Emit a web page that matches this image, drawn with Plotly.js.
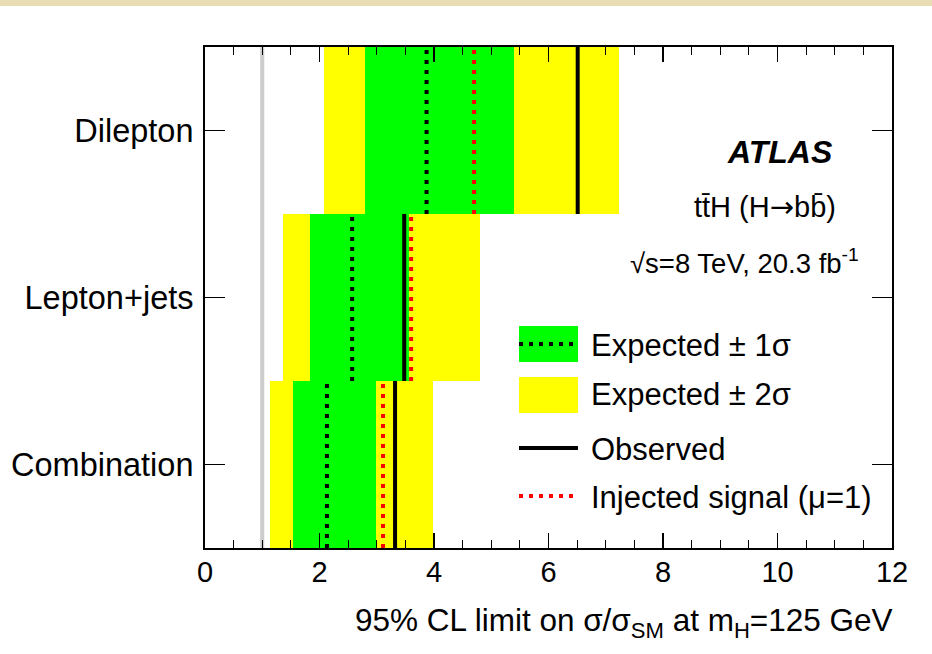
<!DOCTYPE html>
<html>
<head>
<meta charset="utf-8">
<script src="https://cdn.plot.ly/plotly-3.0.1.min.js"></script>
<style>
  html, body { margin: 0; padding: 0; background: #ffffff; }
  #chart { width: 932px; height: 654px; }
</style>
</head>
<body>
<div id="chart"></div>
<script>
// ttH (H->bb) 95% CL upper limits on mu per channel
const channels   = ['Combination', 'Lepton+jets', 'Dilepton'];
const channelPos = [0, 1, 2];
const observed   = [3.32, 3.48, 6.51];
const expected   = [2.13, 2.57, 3.87];
const injected   = [3.11, 3.60, 4.70];
const exp1sLow   = [1.54, 1.83, 2.80];
const exp1sHigh  = [2.99, 3.56, 5.40];
const exp2sLow   = [1.14, 1.36, 2.07];
const exp2sHigh  = [3.98, 4.80, 7.23];
const smReference = 1;

const legendLabels = ['Expected \u00b1 1\u03c3', 'Expected \u00b1 2\u03c3', 'Observed', 'Injected signal (\u03bc=1)'];

// frame geometry (pixels)
const W = 932, H = 654;
const M = { l: 205, r: 40, t: 47, b: 106 };
const plotW = W - M.l - M.r, plotH = H - M.t - M.b;
const px = x => (x - M.l) / plotW;           // pixel -> paper x
const py = y => (H - M.b - y) / plotH;       // pixel -> paper y

const FONT = '"Liberation Sans", Arial, Helvetica, sans-serif';
const dotted = '4px,6px';

// vertical segment per channel spanning the full bin height
function segments(values) {
  const xs = [], ys = [];
  values.forEach((v, i) => {
    xs.push(v, v, null);
    ys.push(channelPos[i] - 0.5, channelPos[i] + 0.5, null);
  });
  return { x: xs, y: ys };
}

const widths = (lo, hi) => hi.map((h, i) => h - lo[i]);

const traces = [
  {
    type: 'bar', orientation: 'h', y: channelPos,
    base: exp2sLow, x: widths(exp2sLow, exp2sHigh), width: 1,
    marker: { color: '#ffff00', line: { width: 0 } }, hoverinfo: 'skip'
  },
  {
    type: 'bar', orientation: 'h', y: channelPos,
    base: exp1sLow, x: widths(exp1sLow, exp1sHigh), width: 1,
    marker: { color: '#00ff00', line: { width: 0 } }, hoverinfo: 'skip'
  },
  Object.assign({
    type: 'scatter', mode: 'lines',
    line: { color: '#cccccc', width: 4 }, hoverinfo: 'skip'
  }, { x: [smReference, smReference], y: [-0.5, 2.5] }),
  Object.assign({
    type: 'scatter', mode: 'lines',
    line: { color: '#000000', width: 4, dash: dotted }, hoverinfo: 'skip'
  }, segments(expected)),
  Object.assign({
    type: 'scatter', mode: 'lines',
    line: { color: '#ff0000', width: 4, dash: dotted }, hoverinfo: 'skip'
  }, segments(injected)),
  Object.assign({
    type: 'scatter', mode: 'lines',
    line: { color: '#000000', width: 4 }, hoverinfo: 'skip'
  }, segments(observed))
];

// legend drawn as boxes, lines and labels inside the frame
const legX0 = 519, legX1 = 578;
const shapes = [
  // parchment strip along the top edge
  { type: 'rect', xref: 'paper', yref: 'paper', x0: px(0), x1: px(W), y0: py(0), y1: py(6),
    fillcolor: '#e9ddb4', line: { width: 0 }, layer: 'below' },
  { type: 'rect', xref: 'paper', yref: 'paper', x0: px(legX0), x1: px(legX1), y0: py(362), y1: py(326),
    fillcolor: '#00ff00', line: { width: 0 } },
  { type: 'line', xref: 'paper', yref: 'paper', x0: px(legX0), x1: px(legX1), y0: py(344), y1: py(344),
    line: { color: '#000000', width: 4, dash: dotted } },
  { type: 'rect', xref: 'paper', yref: 'paper', x0: px(legX0), x1: px(legX1), y0: py(413), y1: py(377),
    fillcolor: '#ffff00', line: { width: 0 } },
  { type: 'line', xref: 'paper', yref: 'paper', x0: px(legX0), x1: px(legX1), y0: py(448), y1: py(448),
    line: { color: '#000000', width: 4 } },
  { type: 'line', xref: 'paper', yref: 'paper', x0: px(legX0), x1: px(legX1), y0: py(496), y1: py(496),
    line: { color: '#ff0000', width: 4, dash: dotted } }
];

const legendY = [344, 394, 449, 496];
const annotations = legendLabels.map((t, i) => ({
  xref: 'paper', yref: 'paper', x: px(589), y: py(legendY[i] + 1),
  xanchor: 'left', yanchor: 'middle', showarrow: false, text: t,
  font: { family: FONT, size: 31, color: '#000000' }
}));

annotations.push(
  { xref: 'paper', yref: 'paper', x: px(835), y: py(152), xanchor: 'right', yanchor: 'middle',
    showarrow: false, text: '<b><i>ATLAS</i></b>', font: { family: FONT, size: 32, color: '#000000' } },
  { xref: 'paper', yref: 'paper', x: px(838), y: py(207), xanchor: 'right', yanchor: 'middle',
    showarrow: false,
    text: 'tt\u0304H (H<span style="font-family:\'DejaVu Sans\'">\u2192</span>bb\u0304)',
    font: { family: FONT, size: 29, color: '#000000' } },
  { xref: 'paper', yref: 'paper', x: px(861), y: py(261), xanchor: 'right', yanchor: 'middle',
    showarrow: false, text: '\u221as=8 TeV, 20.3 fb<sup>-1</sup>',
    font: { family: FONT, size: 27.5, color: '#000000' } },
  { xref: 'paper', yref: 'paper', x: px(895), y: py(622), xanchor: 'right', yanchor: 'middle',
    showarrow: false, text: '95% CL limit on \u03c3/\u03c3<sub>SM</sub> at m<sub>H</sub>=125 GeV',
    font: { family: FONT, size: 31.5, color: '#000000' } }
);

const layout = {
  width: W, height: H,
  margin: M,
  paper_bgcolor: '#ffffff', plot_bgcolor: '#ffffff',
  barmode: 'overlay', bargap: 0,
  showlegend: false,
  font: { family: FONT, color: '#000000' },
  xaxis: {
    range: [0, 12], dtick: 2, tick0: 0,
    showgrid: false, zeroline: false,
    showline: true, linecolor: '#000000', linewidth: 2, mirror: 'ticks',
    ticks: 'inside', ticklen: 15, tickwidth: 1.2, tickcolor: '#000000',
    minor: { dtick: 0.5, ticks: 'inside', ticklen: 8, tickwidth: 1.2, tickcolor: '#000000', showgrid: false },
    tickfont: { family: FONT, size: 29, color: '#000000' },
    ticklabelstandoff: -3
  },
  yaxis: {
    range: [-0.5, 2.5], tickvals: channelPos, ticktext: channels,
    showgrid: false, zeroline: false,
    showline: true, linecolor: '#000000', linewidth: 2, mirror: 'ticks',
    ticks: 'inside', ticklen: 20, tickwidth: 1.2, tickcolor: '#000000',
    tickfont: { family: FONT, size: 32.5, color: '#000000' },
    ticklabelstandoff: 3
  },
  shapes: shapes,
  annotations: annotations
};

Plotly.newPlot('chart', traces, layout, { staticPlot: true, displayModeBar: false });
</script>
</body>
</html>
